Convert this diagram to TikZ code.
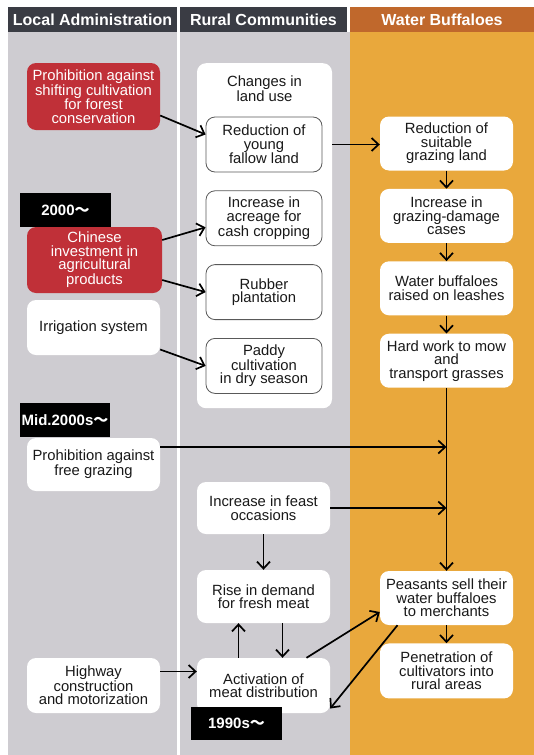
\documentclass[tikz,border=0pt]{standalone}
\usepackage{fontspec}
\setmainfont{Liberation Sans}
\newfontfamily\cjk{Noto Sans CJK JP}
\usepackage{tikz}
\usetikzlibrary{arrows.meta,positioning}

\definecolor{colgray}{RGB}{206,204,209}
\definecolor{headdark}{RGB}{58,60,68}
\definecolor{buffalo}{RGB}{233,168,60}
\definecolor{buffalohead}{RGB}{192,104,44}
\definecolor{banred}{RGB}{192,48,56}
\definecolor{inktext}{RGB}{25,25,25}

\begin{document}
\begin{tikzpicture}[
  x=1pt, y=1pt, >={Straight Barb[length=7pt,width=13pt]},
  node distance=18pt,
  head/.style={minimum height=25pt, inner sep=0pt, text=white,
               font=\fontsize{16}{18}\selectfont\bfseries},
  wbox/.style={fill=white, rounded corners=9pt, align=center, inner sep=2pt,
               minimum width=133pt, minimum height=54pt, text=inktext,
               font=\fontsize{14.8}{13.5}\selectfont},
  redbox/.style={wbox, fill=banred, text=white},
  cbox/.style={wbox, draw=black!65, line width=0.8pt, minimum width=116pt,
               minimum height=55pt},
  era/.style={fill=black, text=white, minimum width=91pt, minimum height=34pt,
              inner sep=0pt, font=\fontsize{15}{17}\selectfont\bfseries},
  arr/.style={->, line width=1.7pt}
]
\useasboundingbox (0,0) rectangle (534,-755);
\fill[white] (0,0) rectangle (534,-755);

% columns
\fill[colgray] (8,-32) rectangle (177,-755);
\fill[colgray] (180,-32) rectangle (350,-755);
\fill[buffalo] (350,-32) rectangle (534,-755);
\node[head, fill=headdark, minimum width=169pt] (hadm) at (92.5,-19.5) {Local Administration};
\node[head, fill=headdark, minimum width=167pt] (hrur) at (263.5,-19.5) {Rural Communities};
\node[head, fill=buffalohead, minimum width=184pt] (hbuf) at (442,-19.5) {Water Buffaloes};

% local administration
\node[redbox, minimum height=67pt] (ban1) at (93.5,-96.5)
  {Prohibition against\\shifting cultivation\\for forest\\conservation};
\node[redbox, minimum width=135pt, minimum height=66pt] (invest) at (94.5,-260)
  {Chinese\\investment in\\agricultural\\products};
\node[wbox, minimum height=55pt] (irrig) at (93.5,-327.5) {Irrigation system};
\node[wbox, minimum height=53pt] (ban2) at (93.5,-464.5) {Prohibition against\\free grazing};
\node[wbox, minimum height=55pt] (highway) at (93.5,-685.5)
  {Highway\\construction\\and motorization};

% rural communities
\node[wbox, minimum width=135pt, minimum height=345pt, anchor=north] (landuse) at (264.5,-63) {};
\node[align=center, text=inktext, font=\fontsize{14.8}{13.5}\selectfont] (landtitle) at (264.5,-89)
  {Changes in\\land use};
\node[cbox] (fallow) at (264,-144.5) {Reduction of\\young\\fallow land};
\node[cbox, below=of fallow] (acreage) {Increase in\\acreage for\\cash cropping};
\node[cbox, below=of acreage] (rubber) {Rubber\\plantation};
\node[cbox, below=of rubber] (paddy) {Paddy\\cultivation\\in dry season};
\node[wbox, minimum height=52pt] (feast) at (263.5,-508) {Increase in feast\\occasions};
\node[wbox, minimum height=53pt] (demand) at (263.5,-596.5) {Rise in demand\\for fresh meat};
\node[wbox, minimum height=55pt] (meat) at (263.5,-685.5) {Activation of\\meat distribution};

% water buffaloes
\node[wbox] (grazeland) at (446.5,-143.5) {Reduction of\\suitable\\grazing land};
\node[wbox, below=of grazeland] (damage) {Increase in\\grazing-damage\\cases};
\node[wbox, below=of damage] (leash) {Water buffaloes\\raised on leashes};
\node[wbox, below=of leash] (hardwork) {Hard work to mow\\and\\transport grasses};
\node[wbox] (sell) at (446.5,-598) {Peasants sell their\\water buffaloes\\to merchants};
\node[wbox, below=of sell, minimum height=55pt] (penetrate) {Penetration of\\cultivators into\\rural areas};

% periods
\node[era] (y2000) at (65.5,-210) {2000{\cjk ～}};
\node[era, minimum width=90pt] (ymid) at (65,-420) {Mid.2000s{\cjk ～}};
\node[era, minimum height=33pt] (y1990) at (236.5,-723.5) {1990s{\cjk ～}};

% links
\draw[arr] ([yshift=-19pt]ban1.east) -- ([yshift=10pt]fallow.west);
\draw[arr] ([yshift=20pt]invest.east) -- ([yshift=-9pt]acreage.west);
\draw[arr] ([yshift=-20pt]invest.east) -- (rubber.west);
\draw[arr] ([yshift=-22pt]irrig.east) -- (paddy.west);
\draw[arr] (fallow -| landuse.east) -- (fallow -| grazeland.west);
\draw[arr] (grazeland) -- (damage);
\draw[arr] (damage) -- (leash);
\draw[arr] (leash) -- (hardwork);
\draw[arr] (hardwork) -- (sell);
\coordinate (jgraze) at (hardwork.south |- 0,-447);
\draw[arr] (ban2.east |- jgraze) -- (jgraze);
\draw[arr] (feast.east) -- (feast.east -| hardwork.south);
\draw[arr] (feast) -- (demand);
\draw[arr] ([xshift=-25pt]meat.north) -- ([xshift=-25pt]demand.south);
\draw[arr] ([xshift=19pt]demand.south) -- ([xshift=19pt]meat.north);
\draw[arr] ([yshift=14pt]highway.east) -- ([yshift=14pt]meat.west);
\draw[arr] ([xshift=43pt]meat.north) -- ([yshift=-14pt]sell.west);
\draw[arr] ([xshift=-49pt]sell.south) -- ([yshift=-23pt]meat.east);
\draw[arr] (sell) -- (penetrate);
\end{tikzpicture}
\end{document}
